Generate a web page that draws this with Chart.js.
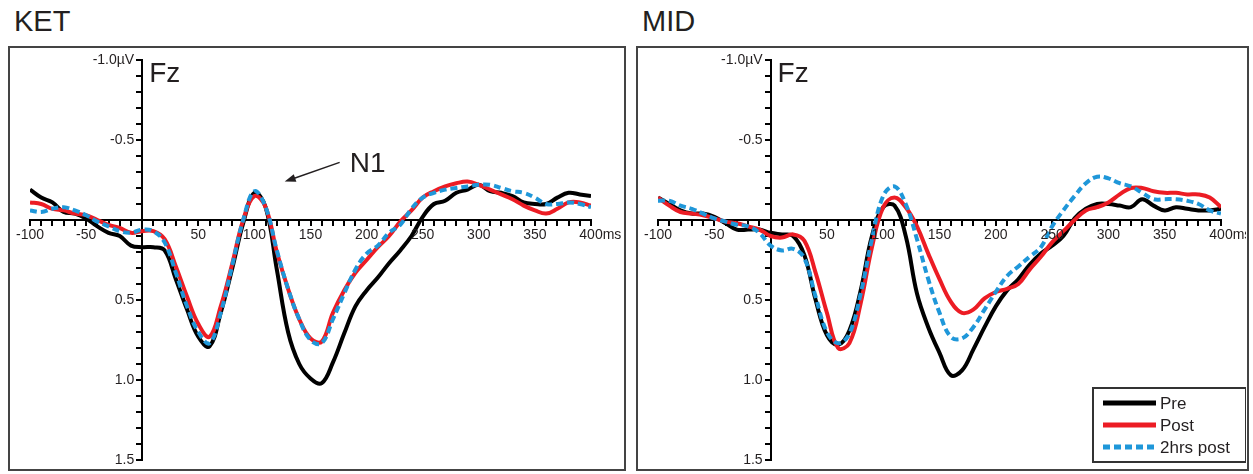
<!DOCTYPE html>
<html>
<head>
<meta charset="utf-8">
<script src="https://cdn.jsdelivr.net/npm/chart.js@4.4.1/dist/chart.umd.min.js"></script>
<style>
  html, body { margin: 0; padding: 0; background: #fff; }
  body { position: relative; width: 1253px; height: 474px; overflow: hidden;
         font-family: "Liberation Sans", Arial, sans-serif; color: #231f20; }
  .title { position: absolute; top: 7px; font-size: 29px; line-height: 29px; }
  .panel { position: absolute; top: 46px; height: 425px; box-sizing: border-box;
           border: 2.5px solid #444; }
  .wrap { position: absolute; top: 48px; height: 421px; }
</style>
</head>
<body>
<div class="title" style="left:14px">KET</div>
<div class="title" style="left:642px">MID</div>
<div class="panel" style="left:8px;width:618px"></div>
<div class="panel" style="left:636px;width:613px"></div>
<div class="wrap" style="left:10px;width:614px"><canvas id="ket"></canvas></div>
<div class="wrap" style="left:638px;width:608px"><canvas id="mid"></canvas></div>
<script>
// time points in ms, one value per 10 ms
const times = [-100, -90, -80, -70, -60, -50, -40, -30, -20, -10,
  0, 10, 20, 30, 40, 50, 60, 70, 80, 90,
  100, 110, 120, 130, 140, 150, 160, 170, 180, 190,
  200, 210, 220, 230, 240, 250, 260, 270, 280, 290,
  300, 310, 320, 330, 340, 350, 360, 370, 380, 390, 400];

// amplitudes in µV (negative plotted upwards)
const ketPre = [-0.19, -0.14, -0.11, -0.05, -0.04, -0.01, 0.04, 0.08, 0.10, 0.16,
  0.17, 0.17, 0.19, 0.37, 0.56, 0.73, 0.79, 0.58, 0.31, 0.02,
  -0.17, -0.08, 0.31, 0.70, 0.90, 0.99, 1.02, 0.89, 0.71, 0.54,
  0.44, 0.36, 0.27, 0.19, 0.10, -0.02, -0.10, -0.12, -0.17, -0.19,
  -0.22, -0.18, -0.17, -0.15, -0.11, -0.10, -0.10, -0.14, -0.17, -0.16, -0.15];
const ketPost = [-0.11, -0.10, -0.07, -0.06, -0.04, -0.03, 0.00, 0.03, 0.05, 0.08,
  0.07, 0.07, 0.12, 0.29, 0.48, 0.65, 0.73, 0.54, 0.28, 0.00,
  -0.15, -0.08, 0.20, 0.43, 0.62, 0.74, 0.76, 0.58, 0.44, 0.33,
  0.25, 0.17, 0.10, 0.01, -0.06, -0.14, -0.18, -0.21, -0.23, -0.24,
  -0.22, -0.19, -0.16, -0.13, -0.09, -0.06, -0.04, -0.07, -0.11, -0.11, -0.09];
const ket2h = [-0.06, -0.05, -0.07, -0.08, -0.06, -0.03, 0.01, 0.04, 0.07, 0.08,
  0.06, 0.07, 0.14, 0.33, 0.54, 0.70, 0.77, 0.58, 0.29, 0.00,
  -0.18, -0.08, 0.19, 0.43, 0.62, 0.75, 0.77, 0.62, 0.46, 0.31,
  0.21, 0.16, 0.08, 0.03, -0.07, -0.14, -0.17, -0.19, -0.20, -0.21,
  -0.22, -0.22, -0.20, -0.18, -0.17, -0.14, -0.10, -0.10, -0.11, -0.10, -0.08];

const midPre = [-0.14, -0.10, -0.06, -0.04, -0.04, -0.02, 0.02, 0.06, 0.06, 0.06,
  0.08, 0.09, 0.10, 0.22, 0.50, 0.72, 0.78, 0.69, 0.44, 0.10,
  -0.08, -0.09, 0.10, 0.46, 0.67, 0.83, 0.97, 0.94, 0.81, 0.67,
  0.54, 0.44, 0.37, 0.28, 0.21, 0.16, 0.10, -0.01, -0.07, -0.10,
  -0.10, -0.09, -0.08, -0.13, -0.09, -0.06, -0.08, -0.07, -0.06, -0.06, -0.07];
const midPost = [-0.14, -0.09, -0.05, -0.04, -0.03, -0.01, 0.01, 0.02, 0.04, 0.06,
  0.10, 0.11, 0.09, 0.13, 0.33, 0.58, 0.80, 0.77, 0.52, 0.17,
  -0.08, -0.14, -0.08, 0.04, 0.21, 0.37, 0.51, 0.58, 0.56, 0.49,
  0.45, 0.43, 0.40, 0.31, 0.23, 0.14, 0.07, 0.00, -0.06, -0.08,
  -0.11, -0.16, -0.20, -0.20, -0.18, -0.17, -0.17, -0.16, -0.16, -0.14, -0.08];
const mid2h = [-0.12, -0.12, -0.09, -0.07, -0.04, -0.01, 0.01, 0.03, 0.04, 0.08,
  0.16, 0.19, 0.18, 0.24, 0.48, 0.70, 0.77, 0.71, 0.46, 0.12,
  -0.15, -0.21, -0.10, 0.12, 0.37, 0.58, 0.73, 0.74, 0.67, 0.56,
  0.45, 0.35, 0.29, 0.23, 0.17, 0.04, -0.06, -0.15, -0.23, -0.27,
  -0.26, -0.23, -0.21, -0.17, -0.13, -0.13, -0.13, -0.12, -0.10, -0.06, -0.04];

const xLabelValues = [-100, -50, 50, 100, 150, 200, 250, 300, 350, 400];
const yLabelValues = [-1.0, -0.5, 0.5, 1.0, 1.5];
const yLabelText = ['-1.0µV', '-0.5', '0.5', '1.0', '1.5'];

const FONT = '"Liberation Sans", Arial, sans-serif';
const INK = '#231f20';

function series(label, values, color, dash, order) {
  return {
    label: label,
    data: times.map((t, i) => ({ x: t, y: values[i] })),
    borderColor: color,
    backgroundColor: color,
    borderWidth: 4,
    borderDash: dash,
    borderCapStyle: 'butt',
    pointRadius: 0,
    tension: 0.4,
    fill: false,
    order: order
  };
}

// tick labels, channel name, arrow note and legend
const panelText = {
  id: 'panelText',
  afterDraw(chart, args, opts) {
    const { ctx, chartArea, scales: { x, y } } = chart;
    const x0 = x.getPixelForValue(0);
    const y0 = y.getPixelForValue(0);
    ctx.save();
    ctx.fillStyle = INK;
    ctx.font = '14px ' + FONT;

    ctx.textAlign = 'right';
    ctx.textBaseline = 'middle';
    yLabelValues.forEach((v, i) => ctx.fillText(yLabelText[i], x0 - 8, y.getPixelForValue(v)));

    ctx.textAlign = 'center';
    ctx.textBaseline = 'top';
    xLabelValues.forEach(v => ctx.fillText(String(v), x.getPixelForValue(v), y0 + 8));
    const last = xLabelValues[xLabelValues.length - 1];
    ctx.textAlign = 'left';
    ctx.fillText('ms', x.getPixelForValue(last) + ctx.measureText(String(last)).width / 2, y0 + 8);

    ctx.font = '28px ' + FONT;
    ctx.fillText(opts.channel, x0 + 7, chartArea.top + 0);

    if (opts.note) {
      const n = opts.note;
      const tx = x.getPixelForValue(n.tip[0]), ty = y.getPixelForValue(n.tip[1]);
      const sx = x.getPixelForValue(n.tail[0]), sy = y.getPixelForValue(n.tail[1]);
      const a = Math.atan2(ty - sy, tx - sx);
      ctx.strokeStyle = INK;
      ctx.lineWidth = 1.5;
      ctx.beginPath();
      ctx.moveTo(sx, sy);
      ctx.lineTo(tx - 8 * Math.cos(a), ty - 8 * Math.sin(a));
      ctx.stroke();
      ctx.beginPath();
      ctx.moveTo(tx, ty);
      ctx.lineTo(tx - 11 * Math.cos(a) + 4 * Math.sin(a), ty - 11 * Math.sin(a) - 4 * Math.cos(a));
      ctx.lineTo(tx - 11 * Math.cos(a) - 4 * Math.sin(a), ty - 11 * Math.sin(a) + 4 * Math.cos(a));
      ctx.closePath();
      ctx.fill();
      ctx.textBaseline = 'alphabetic';
      ctx.fillText(n.text, x.getPixelForValue(n.at[0]), y.getPixelForValue(n.at[1]));
    }

    if (opts.legend) {
      const w = 153, h = 74;
      const bx = chartArea.right + 25 - w, by = chartArea.bottom + 2 - h;
      ctx.fillStyle = '#fff';
      ctx.fillRect(bx, by, w, h);
      ctx.strokeStyle = '#333';
      ctx.lineWidth = 2;
      ctx.strokeRect(bx, by, w, h);
      ctx.font = '17px ' + FONT;
      ctx.textAlign = 'left';
      ctx.textBaseline = 'middle';
      chart.data.datasets.forEach((ds, i) => {
        const ly = by + 15 + i * 22;
        ctx.strokeStyle = ds.borderColor;
        ctx.lineWidth = 5;
        ctx.setLineDash(ds.borderDash || []);
        ctx.beginPath();
        ctx.moveTo(bx + 10, ly);
        ctx.lineTo(bx + 63, ly);
        ctx.stroke();
        ctx.setLineDash([]);
        ctx.fillStyle = INK;
        ctx.fillText(ds.label, bx + 67, ly + 1);
      });
    }
    ctx.restore();
  }
};

function makeChart(id, pre, post, twoH, padRight, extra) {
  return new Chart(document.getElementById(id), {
    type: 'line',
    data: {
      datasets: [
        series('Pre', pre, '#000000', [], 3),
        series('Post', post, '#ec1c24', [], 2),
        series('2hrs post', twoH, '#1f97d9', [7, 4], 1)
      ]
    },
    options: {
      responsive: true,
      maintainAspectRatio: false,
      animation: false,
      devicePixelRatio: 1,
      layout: { padding: { left: 20, right: padRight, top: 12, bottom: 9 } },
      plugins: {
        legend: { display: false },
        tooltip: { enabled: false },
        panelText: Object.assign({ channel: 'Fz' }, extra)
      },
      scales: {
        x: {
          type: 'linear',
          min: -100,
          max: 400,
          position: { y: 0 },
          border: { color: '#000', width: 2 },
          grid: { drawOnChartArea: false, tickLength: 5, color: '#000', lineWidth: 2 },
          ticks: { stepSize: 10, display: false, autoSkip: false }
        },
        y: {
          type: 'linear',
          min: -1,
          max: 1.5,
          reverse: true,
          position: { x: 0 },
          border: { color: '#000', width: 2 },
          grid: { drawOnChartArea: false, tickLength: 5, color: '#000', lineWidth: 2 },
          ticks: { stepSize: 0.1, display: false, autoSkip: false }
        }
      }
    },
    plugins: [panelText]
  });
}

makeChart('ket', ketPre, ketPost, ket2h, 33, {
  note: { text: 'N1', tip: [127, -0.24], tail: [176, -0.36], at: [185, -0.30] }
});
makeChart('mid', midPre, midPost, mid2h, 25, { legend: true });
</script>
</body>
</html>
